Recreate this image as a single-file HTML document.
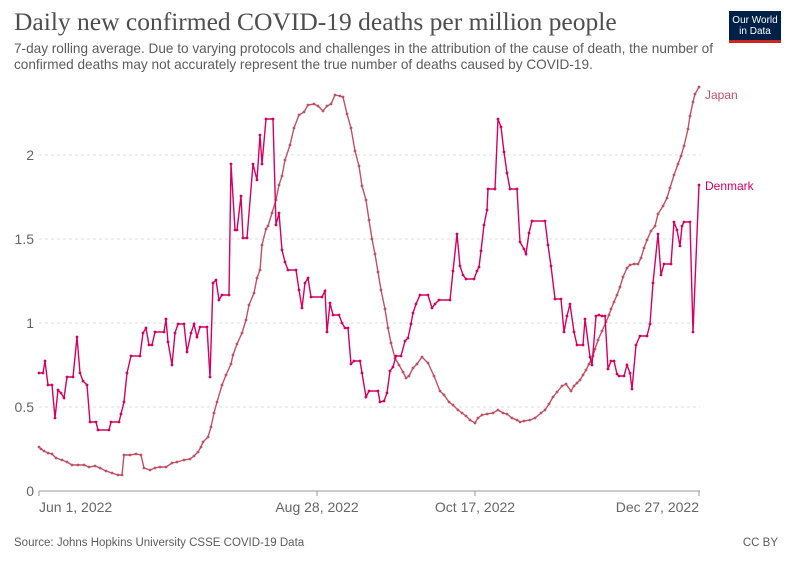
<!DOCTYPE html>
<html><head><meta charset="utf-8"><style>
body{margin:0;width:794px;height:561px;background:#fff;font-family:"Liberation Sans",sans-serif;overflow:hidden;position:relative}
.t{position:absolute;left:14px;top:7px;font-family:"Liberation Serif",serif;font-size:25.5px;color:#4e4e4e;white-space:nowrap}
.s{position:absolute;left:14px;top:41px;font-size:13.6px;line-height:16px;color:#5b5b5b;width:730px}
.logo{position:absolute;left:729px;top:11px;width:52px;height:32px;background:#002147;color:#fff;font-size:10px;line-height:11px;text-align:center;padding-top:4px;box-sizing:border-box;border-bottom:3px solid #ce261e}
.f{position:absolute;top:537px;font-size:11.5px;color:#5b5b5b}
</style></head><body>
<div class="t">Daily new confirmed COVID-19 deaths per million people</div>
<div class="s">7-day rolling average. Due to varying protocols and challenges in the attribution of the cause of death, the number of confirmed deaths may not accurately represent the true number of deaths caused by COVID-19.</div>
<div class="logo">Our World<br>in Data</div>
<svg width="794" height="561" style="position:absolute;left:0;top:0" font-family="Liberation Sans, sans-serif">
<defs>
<marker id="mj" markerWidth="4" markerHeight="4" refX="2" refY="2" markerUnits="userSpaceOnUse"><circle cx="2" cy="2" r="1.4" fill="#c15065"/></marker>
<marker id="md" markerWidth="4" markerHeight="4" refX="2" refY="2" markerUnits="userSpaceOnUse"><circle cx="2" cy="2" r="1.4" fill="#d5005f"/></marker>
</defs>
<g stroke="#ddd" stroke-dasharray="3,3" stroke-width="1">
<line x1="39" x2="700" y1="407" y2="407"/><line x1="39" x2="700" y1="323" y2="323"/><line x1="39" x2="700" y1="239" y2="239"/><line x1="39" x2="700" y1="155" y2="155"/></g>
<line x1="39" x2="700" y1="491" y2="491" stroke="#999"/>
<g stroke="#999"><line x1="39" x2="39" y1="491" y2="496"/><line x1="317" x2="317" y1="491" y2="496"/><line x1="475" x2="475" y1="491" y2="496"/><line x1="699" x2="699" y1="491" y2="496"/></g>
<g fill="#666" font-size="14" text-anchor="end"><text x="34" y="496">0</text><text x="34" y="412">0.5</text><text x="34" y="328">1</text><text x="34" y="244">1.5</text><text x="34" y="160">2</text></g>
<g fill="#666" font-size="14"><text x="39" y="512">Jun 1, 2022</text><text x="317" y="512" text-anchor="middle">Aug 28, 2022</text><text x="475" y="512" text-anchor="middle">Oct 17, 2022</text><text x="699" y="512" text-anchor="end">Dec 27, 2022</text></g>
<polyline fill="none" stroke="#c15065" stroke-width="1.4" marker-start="url(#mj)" marker-mid="url(#mj)" marker-end="url(#mj)" points="39,447 41,449 44,451 48,453 52,454 56,458 62,460 67,462 72,465 78,465 84,465 89,467 95,466 100,468 106,471 112,473 118,475 122,475 124,455 130,455 136,454 141,455 144,468 150,470 155,468 160,467 166,467 172,463 177,462 184,460 190,459 194,456 198,452 201,447 203,442 208,437 211,427 214,413 217,402 222,385 226,375 231,364 233,355 237,344 242,333 246,320 249,305 254,293 257,278 260,270 262,245 266,229 268,226 272,213 276,200 279,185 282,176 285,160 290,145 294,128 299,115 304,112 308,105 314,104 318,106 323,111 327,106 331,104 335,95 340,96 343,97 347,114 351,128 355,151 359,166 362,186 366,200 369,220 372,239 375,254 378,272 381,290 385,309 388,328 391,343 395,358 399,365 403,372 406,378 409,376 413,368 417,364 422,357 428,363 434,376 440,391 444,395 449,402 453,405 458,410 462,413 466,416 470,420 475,423 478,418 482,415 487,414 493,413 498,410 503,413 507,414 512,418 517,420 520,422 524,421 530,420 535,418 541,413 545,410 549,404 553,397 557,392 562,386 566,384 571,391 574,386 577,383 580,380 583,375 586,370 589,364 593,356 595,349 598,340 602,331 606,322 609,315 611,309 614,302 617,295 620,287 623,277 627,268 630,265 634,264 638,264 641,258 644,248 647,240 651,231 655,226 658,214 663,206 667,198 670,188 674,175 678,164 681,156 684,146 688,129 690,116 693,102 695,94 699,87"/>
<polyline fill="none" stroke="#d5005f" stroke-width="1.4" marker-start="url(#md)" marker-mid="url(#md)" marker-end="url(#md)" points="39,373 43,373 45,361 48,385 52,385 55,418 58,390 61,393 64,398 67,377 73,377 77,337 80,373 83,381 87,385 90,422 96,422 98,430 109,430 111,422 119,422 121,414 124,402 127,373 131,356 140,356 143,333 146,328 149,345 152,345 155,332 164,332 166,319 168,342 172,365 175,333 178,324 184,324 187,352 191,333 194,324 197,337 200,327 207,327 210,377 213,283 216,280 219,300 222,295 229,295 231,164 235,230 237,230 241,196 243,238 247,238 253,164 257,180 260,135 262,164 266,119 273,119 276,225 279,213 282,250 285,262 288,270 296,270 299,290 302,308 305,283 308,278 311,297 322,297 325,291 327,332 330,303 333,315 339,315 342,323 345,328 348,328 351,364 354,361 360,361 362,373 366,397 369,391 378,391 380,402 384,401 387,393 390,371 393,367 396,356 401,356 405,341 408,338 411,324 413,313 416,304 420,295 428,295 432,308 435,304 439,300 450,300 453,271 457,234 460,266 463,275 466,279 474,279 477,271 479,267 481,251 484,225 487,210 488,189 495,189 498,119 501,127 504,152 507,173 510,189 517,189 520,242 524,249 526,254 529,233 532,221 545,221 548,245 551,266 555,299 561,299 564,332 567,316 570,304 574,332 577,345 583,345 585,319 590,357 592,365 596,316 599,315 602,316 605,316 608,369 611,361 614,361 617,374 619,376 624,376 627,365 630,373 632,389 636,345 640,336 647,336 650,324 653,283 658,234 661,275 664,264 671,264 674,222 677,230 680,246 682,226 684,222 690,222 693,332 699,185"/>
<text x="705" y="99" fill="#c15065" font-size="12">Japan</text>
<text x="705" y="190" fill="#d5005f" font-size="12">Denmark</text>
</svg>
<div class="f" style="left:14px">Source: Johns Hopkins University CSSE COVID-19 Data</div>
<div class="f" style="right:16px">CC BY</div>
</body></html>
